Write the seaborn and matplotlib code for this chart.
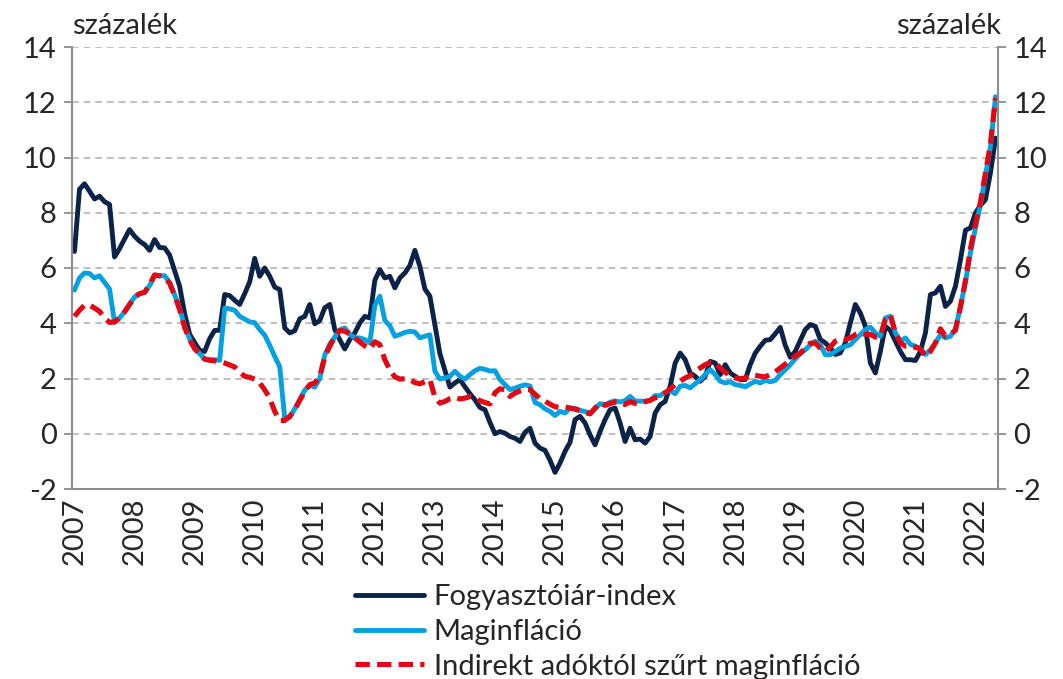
import numpy as np
import pandas as pd
import matplotlib
import matplotlib.pyplot as plt
import seaborn as sns

matplotlib.use("Agg")

years = list(range(2007, 2023))
labels = ["Fogyasztóiár-index", "Maginfláció", "Indirekt adóktól szűrt maginfláció"]

# monthly values, 2007 Jan - 2022 May
cpi = [6.6, 8.85, 9.05, 8.78, 8.5, 8.6, 8.4, 8.3, 6.4, 6.7, 7.05, 7.39,
       7.15, 6.97, 6.85, 6.64, 7.03, 6.74, 6.73, 6.47, 5.9, 5.34, 4.35, 3.6,
       3.3, 3.02, 2.98, 3.44, 3.74, 3.75, 5.04, 5.0, 4.83, 4.68, 5.07, 5.5,
       6.35, 5.7, 6.0, 5.7, 5.31, 5.22, 3.83, 3.65, 3.73, 4.16, 4.25, 4.68,
       3.98, 4.1, 4.56, 4.68, 3.77, 3.4, 3.07, 3.41, 3.65, 4.01, 4.25, 4.19,
       5.55, 5.94, 5.64, 5.7, 5.28, 5.64, 5.82, 6.09, 6.64, 6.06, 5.24, 4.98,
       3.95, 2.9, 2.3, 1.69, 1.84, 1.96, 1.7, 1.45, 1.23, 0.95, 0.87, 0.41,
       0.0, 0.08, 0.02, -0.1, -0.16, -0.28, 0.05, 0.2, -0.34, -0.52, -0.6, -0.96,
       -1.4, -1.06, -0.64, -0.31, 0.51, 0.63, 0.39, -0.04, -0.4, 0.08, 0.51, 0.87,
       0.93, 0.39, -0.28, 0.2, -0.22, -0.19, -0.34, -0.1, 0.75, 1.05, 1.17, 1.72,
       2.56, 2.92, 2.68, 2.2, 2.08, 1.9, 2.08, 2.62, 2.56, 2.14, 2.5, 2.2,
       2.08, 1.96, 1.96, 2.5, 2.92, 3.17, 3.38, 3.41, 3.62, 3.85, 3.2, 2.77,
       2.98, 3.38, 3.77, 3.95, 3.89, 3.41, 3.29, 3.11, 2.87, 2.93, 3.29, 4.01,
       4.68, 4.37, 3.89, 2.56, 2.2, 2.98, 3.89, 3.74, 3.35, 2.98, 2.68, 2.68,
       2.65, 2.98, 3.65, 5.04, 5.1, 5.34, 4.61, 4.8, 5.34, 6.3, 7.37, 7.45,
       7.99, 8.27, 8.48, 9.45, 10.7]

core = [5.2, 5.64, 5.82, 5.8, 5.64, 5.72, 5.48, 5.24, 4.03, 4.19, 4.41, 4.68,
        4.95, 5.07, 5.12, 5.36, 5.72, 5.72, 5.72, 5.48, 5.03, 4.55, 3.89, 3.43,
        3.1, 2.9, 2.71, 2.68, 2.68, 2.66, 4.55, 4.52, 4.47, 4.25, 4.15, 4.05,
        4.02, 3.77, 3.57, 3.2, 2.8, 2.43, 0.55, 0.6, 0.9, 1.23, 1.58, 1.75,
        1.69, 2.0, 2.85, 3.25, 3.5, 3.76, 3.83, 3.6, 3.47, 3.47, 3.41, 3.29,
        4.65, 4.98, 4.1, 3.91, 3.53, 3.59, 3.67, 3.71, 3.68, 3.47, 3.53, 3.58,
        2.26, 1.98, 2.02, 2.08, 2.26, 2.08, 1.98, 2.14, 2.28, 2.37, 2.33, 2.27,
        2.28, 1.96, 1.78, 1.6, 1.65, 1.72, 1.77, 1.73, 1.13, 1.05, 0.9, 0.81,
        0.66, 0.81, 0.75, 0.93, 0.92, 0.85, 0.8, 0.75, 0.9, 1.09, 1.05, 1.14,
        1.19, 1.15, 1.2, 1.35, 1.18, 1.18, 1.18, 1.2, 1.38, 1.38, 1.5, 1.56,
        1.45, 1.72, 1.75, 1.66, 1.81, 1.96, 2.14, 2.32, 2.14, 1.9, 1.84, 1.88,
        1.78, 1.75, 1.7, 1.8, 1.9, 1.84, 1.93, 1.88, 1.93, 2.14, 2.32, 2.5,
        2.71, 2.9, 3.04, 3.22, 3.35, 3.22, 2.86, 2.86, 2.98, 3.1, 3.16, 3.22,
        3.41, 3.59, 3.77, 3.86, 3.65, 3.53, 4.19, 4.25, 3.65, 3.35, 3.47, 3.23,
        3.17, 3.07, 2.87, 3.04, 3.29, 3.59, 3.47, 3.53, 3.8, 4.6, 5.5, 6.55,
        7.45, 8.3, 9.35, 10.4, 12.2]

core_tax = [4.25, 4.47, 4.66, 4.66, 4.55, 4.43, 4.19, 4.03, 4.05, 4.19, 4.41, 4.68,
            4.95, 5.07, 5.12, 5.4, 5.75, 5.72, 5.65, 5.45, 5.0, 4.5, 3.85, 3.4,
            3.08, 2.88, 2.7, 2.66, 2.64, 2.61, 2.56, 2.49, 2.42, 2.22, 2.08, 2.04,
            1.98, 1.84, 1.59, 1.29, 0.81, 0.48, 0.48, 0.63, 0.87, 1.21, 1.53, 1.78,
            1.84, 2.08, 2.78, 3.17, 3.5, 3.74, 3.71, 3.62, 3.47, 3.32, 3.18, 3.07,
            3.33, 3.23, 2.68, 2.31, 2.06, 1.98, 1.99, 1.97, 1.85, 1.81, 1.88, 1.96,
            1.32, 1.11, 1.17, 1.27, 1.32, 1.26, 1.29, 1.35, 1.28, 1.2, 1.13, 1.08,
            1.48, 1.63, 1.59, 1.35, 1.47, 1.55, 1.6, 1.6, 1.43, 1.28, 1.18, 1.07,
            0.98, 0.95, 0.97, 0.93, 0.89, 0.83, 0.77, 0.72, 0.93, 1.11, 1.03, 1.09,
            1.15, 1.14, 1.06, 1.16, 1.1, 1.11, 1.16, 1.21, 1.3, 1.35, 1.48, 1.62,
            1.78, 1.9, 2.02, 2.1, 2.26, 2.38, 2.5, 2.58, 2.58, 2.38, 2.22, 2.12,
            2.02, 1.99, 2.02, 2.1, 2.12, 2.08, 2.06, 2.14, 2.24, 2.38, 2.52, 2.65,
            2.81, 2.92, 3.1, 3.28, 3.28, 3.1, 2.98, 3.14, 3.35, 3.43, 3.41, 3.47,
            3.59, 3.65, 3.59, 3.6, 3.5, 3.53, 4.13, 4.31, 3.65, 3.29, 3.17, 3.17,
            3.13, 3.07, 2.8, 2.98, 3.29, 3.8, 3.53, 3.59, 3.75, 4.6, 5.55, 6.7,
            7.6, 8.4, 9.45, 10.5, 12.15]

df = pd.DataFrame({"month": np.arange(len(cpi)) + 0.5, "cpi": cpi,
                   "core": core, "core_tax": core_tax})

sns.set_style("white")
plt.rcParams["font.family"] = ["Lato", "DejaVu Sans"]
plt.rcParams["axes.unicode_minus"] = False
fs = 21

fig = plt.figure(figsize=(10.63, 6.79), dpi=100)
ax = fig.add_axes([72 / 1063, 1 - 489 / 679, (998 - 72) / 1063, (489 - 47) / 679])

sns.lineplot(data=df, x="month", y="cpi", ax=ax, color="#0C2349",
             linewidth=3.5, label=labels[0])
sns.lineplot(data=df, x="month", y="core", ax=ax, color="#05A0E0",
             linewidth=3.5, label=labels[1])
sns.lineplot(data=df, x="month", y="core_tax", ax=ax, color="#E30613",
             linewidth=3.7, label=labels[2], dashes=False)
ax.lines[2].set_dashes((2.8, 1.4))

ax.set_xlim(0, len(cpi))
ax.set_ylim(-2, 14)
ax.set_yticks(range(-2, 15, 2))
ax.set_xticks([12 * k for k in range(len(years))])
ax.set_xticklabels([])
ax.set_xticks([12 * k + 0.5 for k in range(len(years))], minor=True)
ax.set_xticklabels([str(y) for y in years], minor=True, rotation=90, fontsize=fs)
ax.tick_params(axis="x", which="minor", length=0, pad=6)
ax.tick_params(axis="x", which="major", length=7, width=1.3, color="#8C8C8C", direction="out")
ax.tick_params(axis="y", left=True, right=True, labelleft=True, labelright=True,
               length=6, width=1.3, color="#8C8C8C", direction="out", labelsize=fs, pad=5)
ax.set_xlabel("")
ax.set_ylabel("")

ax.yaxis.grid(True, linestyle=(0, (4, 3)), color="#B4B4B4", linewidth=1.2)
ax.xaxis.grid(False)
ax.set_axisbelow(True)
for side in ["left", "right", "bottom"]:
    ax.spines[side].set_color("#8C8C8C")
    ax.spines[side].set_linewidth(1.5)
ax.spines["top"].set_visible(False)

ax.get_legend().remove()
handles, _ = ax.get_legend_handles_labels()
fig.legend(handles, labels, loc="upper left", bbox_to_anchor=(355 / 1063, 1 - 584 / 679),
           frameon=False, fontsize=fs, handlelength=2.35, handletextpad=0.35,
           labelspacing=0.3, borderpad=0, borderaxespad=0)

fig.text(72 / 1063, 1 - 26 / 679, "százalék", fontsize=fs, ha="left", va="center")
fig.text(1001 / 1063, 1 - 26 / 679, "százalék", fontsize=fs, ha="right", va="center")

fig.savefig("out.png", dpi=100)
